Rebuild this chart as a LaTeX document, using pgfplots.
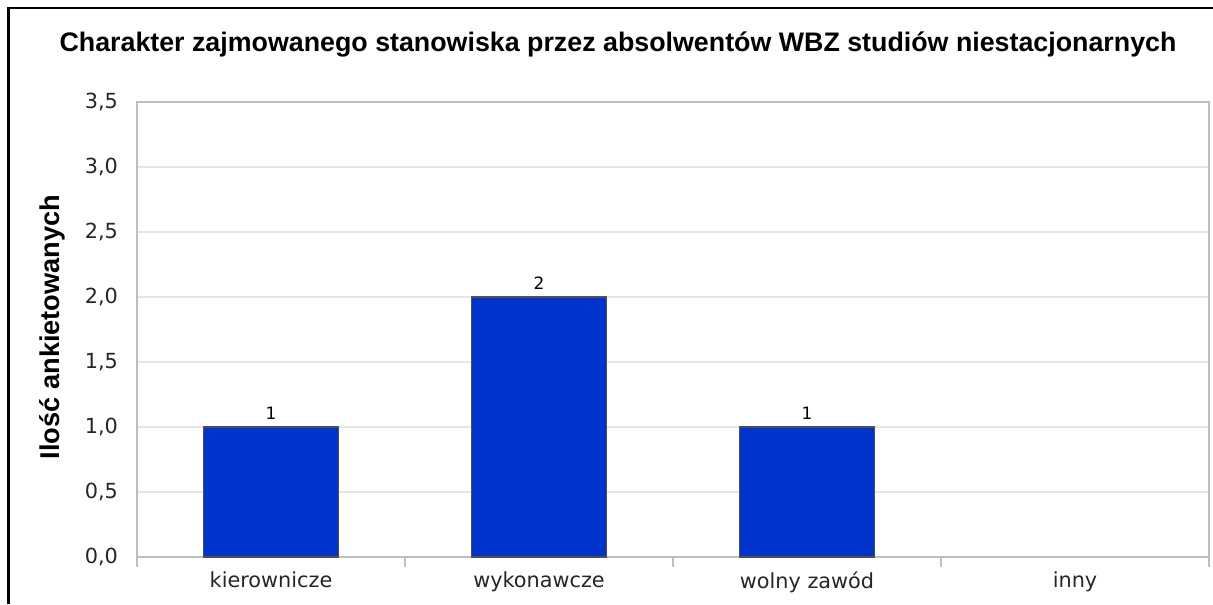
\documentclass[border=0pt]{standalone}
\usepackage{pgfplots}
\pgfplotsset{compat=1.18}
\usepackage{fontspec}
\setmainfont{DejaVu Sans}
\newfontfamily\arialfont{Liberation Sans}
\definecolor{barblue}{RGB}{0,51,204}
\definecolor{baredge}{RGB}{80,80,80}
\definecolor{gridgray}{RGB}{230,230,230}
\definecolor{axisgray}{RGB}{190,190,190}
\begin{document}
\begin{tikzpicture}[x=1pt,y=1pt]
\useasboundingbox (0,0) rectangle (606.5,302);
\draw[line width=1.1pt,black] (4.2,0) -- (4.2,297.8) -- (606.5,297.8);
\node[font=\arialfont\bfseries\fontsize{13.4}{15}\selectfont] at (309,279.5) {Charakter zajmowanego stanowiska przez absolwentów WBZ studiów niestacjonarnych};
\node[font=\arialfont\bfseries\fontsize{13.6}{15}\selectfont,rotate=90] at (26,138.5) {Ilość ankietowanych};
\begin{axis}[
  at={(68.5pt,23.5pt)}, anchor=south west,
  scale only axis, width=536pt, height=227.5pt,
  xmin=-0.5, xmax=3.5, ymin=0, ymax=3.5,
  ybar, bar width=67.5pt, bar shift=0pt,
  axis line style={axisgray, line width=0.6pt},
  ytick={0,0.5,...,3.5},
  yticklabel style={/pgf/number format/fixed, /pgf/number format/fixed zerofill, /pgf/number format/precision=1, /pgf/number format/use comma},
  /pgf/number format/assume math mode=true,
  ymajorgrids, grid style={gridgray, line width=0.6pt},
  major tick length=0pt,
  xtick={0,1,2,3},
  xticklabels={kierownicze, wykonawcze, wolny zawód, inny},
  minor xtick={-0.5,0.5,1.5,2.5,3.5},
  minor tick length=5pt, tick align=outside, xtick pos=bottom, ytick pos=left,
  minor tick style={axisgray, line width=0.6pt},
  tick label style={font=\fontsize{10.4}{12}\selectfont, text=black!85},
  yticklabel style={xshift=-6pt},
  xticklabel style={yshift=-4pt},
  nodes near coords,
  nodes near coords style={font=\fontsize{8.5}{10}\selectfont, /pgf/number format/fixed, /pgf/number format/precision=0},
  clip=false,
]
\addplot[fill=barblue, draw=baredge, line width=0.7pt] coordinates {(0,1) (1,2) (2,1)};
\end{axis}
\end{tikzpicture}
\end{document}
